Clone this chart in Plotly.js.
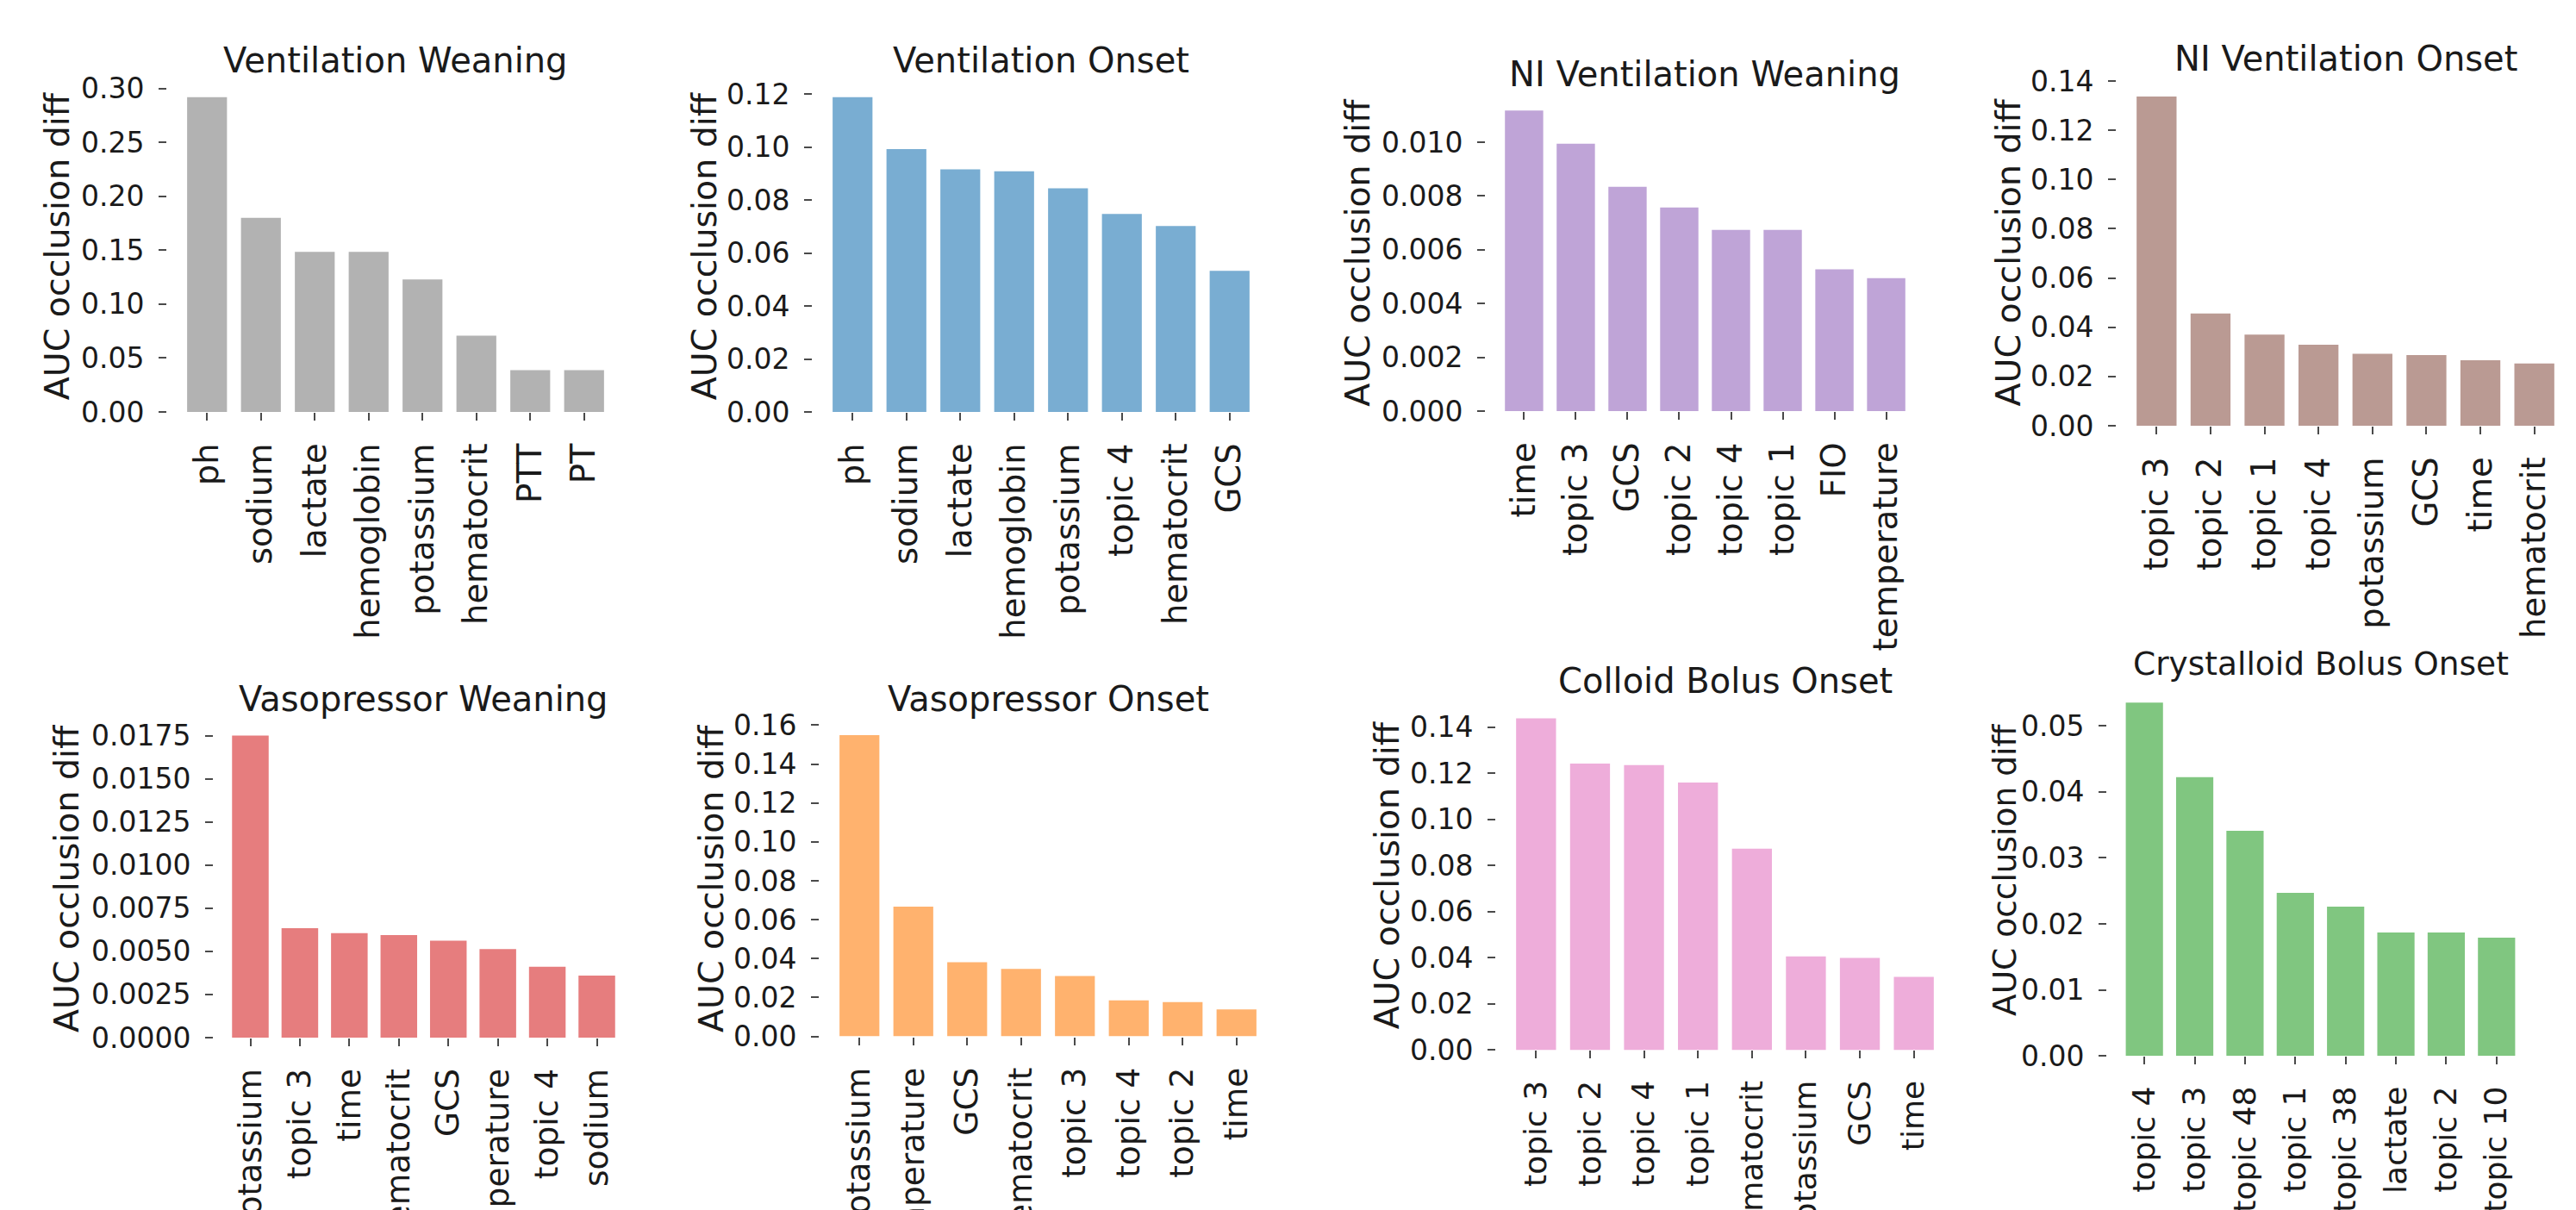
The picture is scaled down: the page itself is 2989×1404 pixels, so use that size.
<!DOCTYPE html>
<html>
<head>
<meta charset="utf-8">
<script src="https://cdn.plot.ly/plotly-3.0.1.min.js"></script>
<style>
  html, body { margin: 0; padding: 0; background: #ffffff; overflow: hidden; }
  #chart { width: 2989px; height: 1404px; }
</style>
</head>
<body>
<div id="chart"></div>
<script>
// Feature importance per intervention task: drop in AUC when a feature is occluded.

const ventWeanTitle = 'Ventilation Weaning';
const ventWeanFeatures = ['ph', 'sodium', 'lactate', 'hemoglobin', 'potassium', 'hematocrit', 'PTT', 'PT'];
const ventWeanValues = [0.292, 0.180, 0.1485, 0.1485, 0.123, 0.0707, 0.0387, 0.0387];

const ventOnsetTitle = 'Ventilation Onset';
const ventOnsetFeatures = ['ph', 'sodium', 'lactate', 'hemoglobin', 'potassium', 'topic 4', 'hematocrit', 'GCS'];
const ventOnsetValues = [0.1188, 0.0992, 0.0916, 0.0908, 0.0844, 0.0747, 0.0702, 0.0533];

const niVentWeanTitle = 'NI Ventilation Weaning';
const niVentWeanFeatures = ['time', 'topic 3', 'GCS', 'topic 2', 'topic 4', 'topic 1', 'FIO', 'temperature'];
const niVentWeanValues = [0.01118, 0.00994, 0.00834, 0.00757, 0.00674, 0.00674, 0.00527, 0.00494];

const niVentOnsetTitle = 'NI Ventilation Onset';
const niVentOnsetFeatures = ['topic 3', 'topic 2', 'topic 1', 'topic 4', 'potassium', 'GCS', 'time', 'hematocrit'];
const niVentOnsetValues = [0.1337, 0.0456, 0.0370, 0.0329, 0.0292, 0.0287, 0.0266, 0.0253];

const vasoWeanTitle = 'Vasopressor Weaning';
const vasoWeanFeatures = ['potassium', 'topic 3', 'time', 'hematocrit', 'GCS', 'temperature', 'topic 4', 'sodium'];
const vasoWeanValues = [0.0175, 0.00634, 0.00605, 0.00594, 0.00562, 0.00513, 0.00411, 0.00360];

const vasoOnsetTitle = 'Vasopressor Onset';
const vasoOnsetFeatures = ['potassium', 'temperature', 'GCS', 'hematocrit', 'topic 3', 'topic 4', 'topic 2', 'time'];
const vasoOnsetValues = [0.1549, 0.0667, 0.0381, 0.0347, 0.0311, 0.0185, 0.0177, 0.0139];

const colloidTitle = 'Colloid Bolus Onset';
const colloidFeatures = ['topic 3', 'topic 2', 'topic 4', 'topic 1', 'hematocrit', 'potassium', 'GCS', 'time'];
const colloidValues = [0.1438, 0.1242, 0.1235, 0.1160, 0.0873, 0.0406, 0.0399, 0.0317];

const crystalloidTitle = 'Crystalloid Bolus Onset';
const crystalloidFeatures = ['topic 4', 'topic 3', 'topic 48', 'topic 1', 'topic 38', 'lactate', 'topic 2', 'topic 10'];
const crystalloidValues = [0.0535, 0.0422, 0.0341, 0.0247, 0.0226, 0.0187, 0.0187, 0.0179];

const yAxisLabel = 'AUC occlusion diff';

const panels = [
  { title: ventWeanTitle, x: ventWeanFeatures, y: ventWeanValues },
  { title: ventOnsetTitle, x: ventOnsetFeatures, y: ventOnsetValues },
  { title: niVentWeanTitle, x: niVentWeanFeatures, y: niVentWeanValues },
  { title: niVentOnsetTitle, x: niVentOnsetFeatures, y: niVentOnsetValues },
  { title: vasoWeanTitle, x: vasoWeanFeatures, y: vasoWeanValues },
  { title: vasoOnsetTitle, x: vasoOnsetFeatures, y: vasoOnsetValues },
  { title: colloidTitle, x: colloidFeatures, y: colloidValues },
  { title: crystalloidTitle, x: crystalloidFeatures, y: crystalloidValues }
];

// Styling and placement of each small axes (pixel boxes on a 2989 x 1404 page).
const W = 2989, H = 1404;
const styles = [
  { color: '#b2b2b2', l: 194,  r: 724,  t: 94.5,  b: 478,    dtick: 0.05,   fmt: '.2f', labelX: 66,   xFont: 38.5, titleFont: 40,   labelFont: 39.5 },
  { color: '#79add2', l: 943,  r: 1473, t: 94.5,  b: 478,    dtick: 0.02,   fmt: '.2f', labelX: 817,  xFont: 38.5, titleFont: 40,   labelFont: 39.5 },
  { color: '#bfa4d7', l: 1724, r: 2233, t: 110.7, b: 477,    dtick: 0.002,  fmt: '.3f', labelX: 1575, xFont: 38.5, titleFont: 40,   labelFont: 39.5 },
  { color: '#ba9a93', l: 2456, r: 2987, t: 92.9,  b: 494,    dtick: 0.02,   fmt: '.2f', labelX: 2330, xFont: 38.5, titleFont: 40,   labelFont: 39.5 },
  { color: '#e67d7e', l: 248,  r: 735,  t: 836,   b: 1204,   dtick: 0.0025, fmt: '.4f', labelX: 77,   xFont: 37.5, titleFont: 40,   labelFont: 39.5 },
  { color: '#ffb26e', l: 951,  r: 1481, t: 835.5, b: 1202.6, dtick: 0.02,   fmt: '.2f', labelX: 825,  xFont: 37.5, titleFont: 40,   labelFont: 39.5 },
  { color: '#eeadda', l: 1736, r: 2267, t: 814.3, b: 1218.4, dtick: 0.02,   fmt: '.2f', labelX: 1609, xFont: 36,   titleFont: 40,   labelFont: 39.5 },
  { color: '#80c680', l: 2445, r: 2940, t: 794.8, b: 1225.2, dtick: 0.01,   fmt: '.2f', labelX: 2326, xFont: 36,   titleFont: 37.5, labelFont: 37.5 }
];

const FONT = 'DejaVu Sans, Verdana, sans-serif';
const TEXT = '#1a1a1a';

const traces = [];
const layout = {
  width: W,
  height: H,
  margin: { l: 0, r: 0, t: 0, b: 0, pad: 0 },
  paper_bgcolor: '#ffffff',
  plot_bgcolor: '#ffffff',
  showlegend: false,
  bargap: 0.26,
  font: { family: FONT, color: TEXT, size: 33 },
  annotations: []
};

panels.forEach((p, i) => {
  const s = styles[i];
  const n = i + 1;
  const xa = n === 1 ? 'xaxis' : 'xaxis' + n;
  const ya = n === 1 ? 'yaxis' : 'yaxis' + n;
  const xr = n === 1 ? 'x' : 'x' + n;
  const yr = n === 1 ? 'y' : 'y' + n;

  traces.push({
    type: 'bar',
    x: p.x,
    y: p.y,
    xaxis: xr,
    yaxis: yr,
    marker: { color: s.color, line: { width: 0 } },
    hoverinfo: 'x+y'
  });

  const yMax = Math.max(...p.y) * 1.05;

  layout[xa] = {
    domain: [s.l / W, s.r / W],
    anchor: yr,
    type: 'category',
    range: [-0.74, p.x.length - 1 + 0.74],
    showgrid: false,
    zeroline: false,
    showline: false,
    ticks: 'outside',
    ticklen: 9,
    tickwidth: 2,
    tickcolor: '#4a4a4a',
    tickangle: -90,
    ticklabelstandoff: 11,
    tickfont: { family: FONT, size: s.xFont, color: TEXT },
    fixedrange: true
  };

  layout[ya] = {
    domain: [1 - s.b / H, 1 - s.t / H],
    anchor: xr,
    range: [0, yMax],
    tick0: 0,
    dtick: s.dtick,
    tickformat: s.fmt,
    showgrid: false,
    zeroline: false,
    showline: false,
    ticks: 'outside',
    ticklen: 9,
    tickwidth: 2,
    tickcolor: '#4a4a4a',
    ticklabelstandoff: 10,
    tickfont: { family: FONT, size: 33, color: TEXT },
    fixedrange: true
  };

  // panel title, centred above the axes
  layout.annotations.push({
    xref: 'paper', yref: 'paper',
    x: ((s.l + s.r) / 2) / W,
    y: 1 - (s.t - 24.5) / H,
    xanchor: 'center', yanchor: 'middle',
    text: p.title,
    showarrow: false,
    font: { family: FONT, size: s.titleFont, color: TEXT }
  });

  // y-axis label, rotated
  layout.annotations.push({
    xref: 'paper', yref: 'paper',
    x: s.labelX / W,
    y: 1 - ((s.t + s.b) / 2) / H,
    xanchor: 'center', yanchor: 'middle',
    text: yAxisLabel,
    textangle: -90,
    showarrow: false,
    font: { family: FONT, size: s.labelFont, color: TEXT }
  });
});

Plotly.newPlot('chart', traces, layout, { displayModeBar: false, staticPlot: true });
</script>
</body>
</html>
